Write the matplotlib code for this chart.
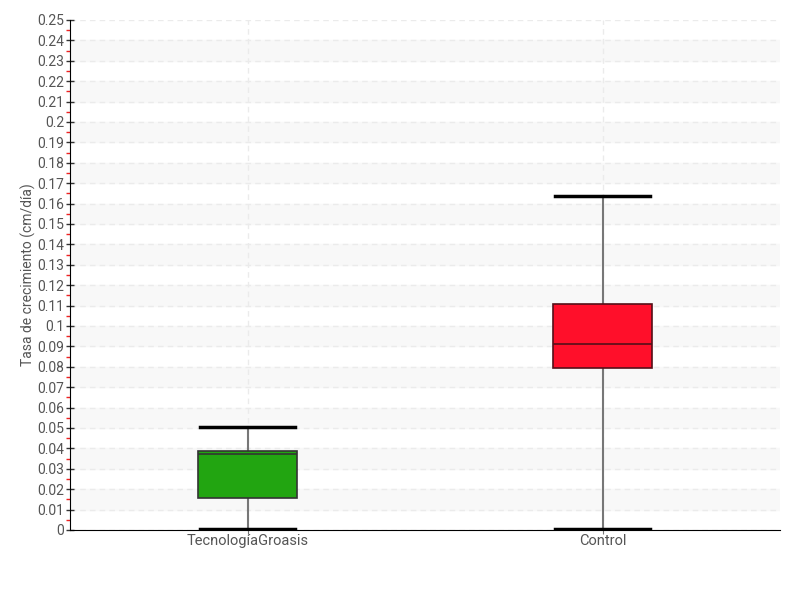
import numpy as np
import matplotlib.pyplot as plt
from matplotlib.ticker import MultipleLocator

plt.rcParams['font.family'] = ['Roboto', 'DejaVu Sans']

# datos
grupos = ['TecnologíaGroasis', 'Control']
minimo = [0.0005, 0.0005]
q1 = [0.0157, 0.0795]
mediana = [0.0373, 0.0912]
q3 = [0.0388, 0.1108]
maximo = [0.0505, 0.1637]
colores = ['#22a511', '#ff0f2a']
bordes = ['#333333', '#551018']

fig = plt.figure(figsize=(8, 6), dpi=100)
ax = fig.add_axes([0.0875, 0.1167, 0.8875, 0.85])

# bandas alternas de fondo
for y0 in np.arange(0.01, 0.24, 0.02):
    ax.axhspan(y0, y0 + 0.01, color='#f8f8f8', zorder=0)

stats = []
for i in range(len(grupos)):
    stats.append({'med': mediana[i], 'q1': q1[i], 'q3': q3[i],
                  'whislo': minimo[i], 'whishi': maximo[i], 'fliers': [], 'label': grupos[i]})

pos = np.arange(len(grupos))
bp = ax.bxp(stats, positions=pos, widths=0.28, patch_artist=True, showfliers=False,
            whiskerprops=dict(color='#777777', linewidth=1.5),
            capprops=dict(color='black', linewidth=2.5),
            capwidths=0.27)
for i, b in enumerate(bp['boxes']):
    b.set_facecolor(colores[i])
    b.set_edgecolor(bordes[i])
    b.set_linewidth(1.2)
    b.set_zorder(3)
for i, m in enumerate(bp['medians']):
    m.set_color(bordes[i])
    m.set_linewidth(1.2)
    m.set_zorder(4)

ax.set_xlim(-0.5, 1.5)
ax.set_ylim(0, 0.25)
ax.yaxis.set_major_locator(MultipleLocator(0.01))
ax.yaxis.set_minor_locator(MultipleLocator(0.005))
ax.set_yticklabels(['{:g}'.format(round(v, 2)) for v in ax.get_yticks()])
ax.set_xticks(pos)
ax.set_xticklabels(grupos)

ax.grid(axis='y', which='major', linestyle=(0, (4, 3)), color='#ebebeb', linewidth=1, zorder=1)
ax.grid(axis='x', linestyle=(0, (4, 3)), color='#ebebeb', linewidth=1, zorder=1)
ax.set_axisbelow(True)

ax.spines['top'].set_visible(False)
ax.spines['right'].set_visible(False)
ax.tick_params(axis='y', which='major', direction='inout', length=6, width=1, color='#333333',
               labelsize=10, labelcolor='#555555', pad=1)
ax.tick_params(axis='y', which='minor', direction='out', length=3, width=1, color='#ee2222')
ax.tick_params(axis='x', length=3, color='#777777', labelsize=10.5, labelcolor='#555555', pad=0)

ax.set_ylabel('Tasa de crecimiento (cm/día)', fontsize=10, color='#555555', labelpad=1)

fig.savefig('out.png', dpi=100)
